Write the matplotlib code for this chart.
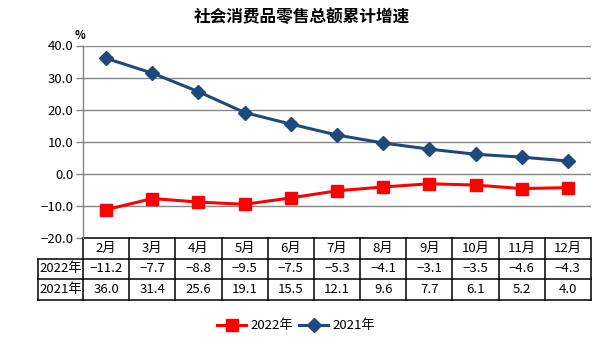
import matplotlib
matplotlib.use("Agg")
import matplotlib.pyplot as plt
import matplotlib.transforms as mtransforms

plt.rcParams['font.family'] = ['Noto Sans CJK SC', 'DejaVu Sans']

months = ["2月", "3月", "4月", "5月", "6月", "7月", "8月", "9月", "10月", "11月", "12月"]
s2022 = [-11.2, -7.7, -8.8, -9.5, -7.5, -5.3, -4.1, -3.1, -3.5, -4.6, -4.3]
s2021 = [36.0, 31.4, 25.6, 19.1, 15.5, 12.1, 9.6, 7.7, 6.1, 5.2, 4.0]
series_names = ["2022年", "2021年"]
yticks = [40, 30, 20, 10, 0, -10, -20]
title = "社会消费品零售总额累计增速"

W, H = 604, 347
fig = plt.figure(figsize=(W / 100, H / 100), dpi=100)
x0, x1 = 83, 591
ytop, ybot = 45.5, 238
ax = fig.add_axes([x0 / W, 1 - ybot / H, (x1 - x0) / W, (ybot - ytop) / H])

xs = list(range(len(months)))
ax.set_xlim(-0.5, len(months) - 0.5)
ax.set_ylim(-20, 40)
ax.set_yticks(yticks)
ax.set_yticklabels([f"{v:.1f}".replace("-", "−") for v in yticks], fontsize=9.5)
ax.set_xticks([])
ax.grid(axis='y', color='#868686', linewidth=1)
ax.set_axisbelow(True)
for s in ['top', 'right', 'bottom']:
    ax.spines[s].set_visible(False)
ax.spines['left'].set_color('#868686')
ax.spines['left'].set_linewidth(1)
ax.tick_params(axis='y', length=5, color='#868686', width=1, pad=2)

l1, = ax.plot(xs, s2022, color='#FF0000', linewidth=2.2, marker='s', markersize=8.5,
              label=series_names[0], zorder=3)
l2, = ax.plot(xs, s2021, color='#1F497D', linewidth=2.2, marker='D', markersize=7,
              label=series_names[1], zorder=3)

ax.text(-0.56, 1.02, "%", transform=mtransforms.blended_transform_factory(ax.transData, ax.transAxes),
        fontsize=8, fontweight='bold', ha='center', va='bottom')

# table
trans = mtransforms.blended_transform_factory(ax.transData, ax.transAxes)
hpx = ybot - ytop
row_h = 20.5 / hpx
r0 = 0.0
r1 = -row_h
r2 = -2 * row_h
r3 = -3 * row_h
lab_left = -0.5 - 45 / ((x1 - x0) / len(months))
xr = len(months) - 0.5
lw = 1.1
kw = dict(color='black', linewidth=lw, transform=trans, clip_on=False, solid_capstyle='projecting')
ax.plot([-0.5, xr], [r0, r0], **kw)
ax.plot([lab_left, xr], [r1, r1], **kw)
ax.plot([lab_left, xr], [r2, r2], **kw)
ax.plot([lab_left, xr], [r3, r3], **kw)
ax.plot([lab_left, lab_left], [r1, r3], **kw)
for i in range(len(months) + 1):
    ax.plot([i - 0.5, i - 0.5], [r0, r3], **kw)
tk = dict(transform=trans, ha='center', va='center', fontsize=9.5, clip_on=False)
lab_c = (lab_left - 0.5) / 2
for i, m in enumerate(months):
    ax.text(i, (r0 + r1) / 2, m, **tk)
    ax.text(i, (r1 + r2) / 2, f"{s2022[i]:.1f}".replace("-", "−"), **tk)
    ax.text(i, (r2 + r3) / 2, f"{s2021[i]:.1f}", **tk)
ax.text(lab_c, (r1 + r2) / 2, series_names[0], **tk)
ax.text(lab_c, (r2 + r3) / 2, series_names[1], **tk)

fig.text(0.5, 1 - 17 / H, title, ha='center', va='center', fontsize=12, fontweight='bold')

fig.legend(handles=[l1, l2], loc='center', bbox_to_anchor=(296 / W, 1 - 326 / H), ncol=2,
           frameon=False, fontsize=9.5, handlelength=2.2, handletextpad=0.3, columnspacing=0.5)

fig.savefig("out.png", dpi=100)
